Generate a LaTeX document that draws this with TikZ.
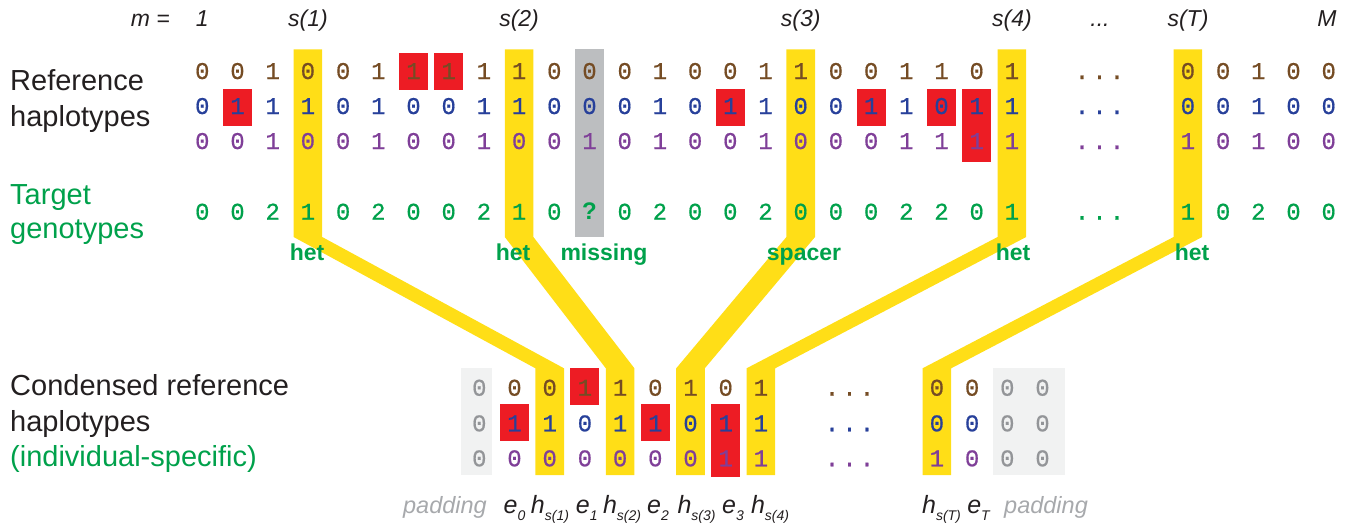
\documentclass[tikz,border=0pt]{standalone}
\usepackage{fontspec}
\setmainfont{Liberation Sans}
\newfontfamily\digfont{Liberation Mono}[FakeBold=0.6]
\definecolor{cbrown}{RGB}{117,76,36}
\definecolor{cblue}{RGB}{39,64,154}
\definecolor{cpurple}{RGB}{127,63,152}
\definecolor{cgreen}{RGB}{0,161,75}
\definecolor{cyellow}{RGB}{255,222,23}
\definecolor{cred}{RGB}{237,28,36}
\definecolor{cgraycol}{RGB}{188,190,192}
\definecolor{cpad}{RGB}{241,242,242}
\definecolor{cpaddig}{RGB}{147,149,152}
\definecolor{cpadtxt}{RGB}{167,169,172}
\definecolor{ctext}{RGB}{35,31,32}
\newcommand\sbx[1]{\raisebox{-7pt}{\fontsize{14}{14}\selectfont #1}}
\begin{document}
\begin{tikzpicture}[x=1pt,y=-1pt,
  dig/.style={font=\digfont\fontsize{24}{24}\selectfont, anchor=base, inner sep=0pt},
  lbl/.style={font=\fontsize{29}{29}\selectfont, anchor=base west, inner sep=0pt, text=ctext},
  hdr/.style={font=\itshape\fontsize{23}{23}\selectfont, anchor=base, inner sep=0pt, text=ctext},
  sym/.style={font=\itshape\fontsize{25}{25}\selectfont, anchor=base, inner sep=0pt, text=ctext},
  tag/.style={font=\bfseries\fontsize{23}{23}\selectfont, anchor=base, inner sep=0pt, text=cgreen},
  pad/.style={font=\itshape\fontsize{23.5}{23.5}\selectfont, inner sep=0pt, text=cpadtxt},
  redbox/.style={fill=cred},
  band/.style={fill=cyellow}
]
\useasboundingbox (0,0) rectangle (1352,527);

% background boxes
\fill[cpad] (461,368.3) rectangle (491.7,475);
\fill[cpad] (993,368.3) rectangle (1064.7,475);
\fill[cgraycol] ({202.3+35.2*11-14.5},49.3) rectangle ({202.3+35.2*11+14.5},237);

% yellow bands
\foreach \i/\j in {3/2, 9/4, 17/6, 23/8, 28/13} {
  \fill[band] ({202.3+35.2*\i-14.3},49.3) -- ({202.3+35.2*\i+14.3},49.3)
    -- ({202.3+35.2*\i+14.3},237) -- ({479.3+35.2*\j+14.3},368.3)
    -- ({479.3+35.2*\j+14.3},475) -- ({479.3+35.2*\j-14.3},475)
    -- ({479.3+35.2*\j-14.3},368.3) -- ({202.3+35.2*\i-14.3},237) -- cycle;
}

% red boxes (top)
\foreach \i in {6,7} \fill[redbox] ({202.3+35.2*\i-14.5},53.3) rectangle ({202.3+35.2*\i+14.5},90);
\foreach \i in {1,15,19,21} \fill[redbox] ({202.3+35.2*\i-14.5},89.3) rectangle ({202.3+35.2*\i+14.5},126);
\fill[redbox] ({202.3+35.2*22-14.5},89.3) rectangle ({202.3+35.2*22+14.5},161.7);
% red boxes (condensed)
\fill[redbox] ({479.3+35.2*3-14.5},367.7) rectangle ({479.3+35.2*3+14.5},405);
\foreach \j in {1,5} \fill[redbox] ({479.3+35.2*\j-14.5},404) rectangle ({479.3+35.2*\j+14.5},440.7);
\fill[redbox] ({479.3+35.2*7-14.5},404) rectangle ({479.3+35.2*7+14.5},476.7);

% left labels
\node[lbl] (lref) at (10,90.7) {Reference};
\node[lbl] (lhap) at (10,126) {haplotypes};
\node[lbl,text=cgreen] (ltar) at (10,204) {Target};
\node[lbl,text=cgreen] (lgen) at (10,238) {genotypes};
\node[lbl] (lcon) at (10,395.5) {Condensed reference};
\node[lbl] (lhap2) at (10,431) {haplotypes};
\node[lbl,text=cgreen] (lind) at (10,466) {(individual-specific)};

% header
\node[hdr,anchor=base east] (hm) at (170,27) {m =};
\node[hdr] (h1) at (202.3,27) {1};
\node[hdr] (hs1) at (307.9,27) {s(1)};
\node[hdr] (hs2) at (519.1,27) {s(2)};
\node[hdr] (hs3) at (800.7,27) {s(3)};
\node[hdr] (hs4) at (1011.9,27) {s(4)};
\node[hdr] (hdots) at (1100,27) {...};
\node[hdr] (hsT) at (1188,27) {s(T)};
\node[hdr] (hM) at (1327,27) {M};

% reference haplotype rows
\foreach \v [count=\i from 0] in {0,0,1,0,0,1,1,1,1,1,0,0,0,1,0,0,1,1,0,0,1,1,0,1}
  \node[dig,text=cbrown] (ra\i) at ({202.3+35.2*\i},79) {\v};
\foreach \v [count=\i from 28] in {0,0,1,0,0}
  \node[dig,text=cbrown] (ra\i) at ({202.3+35.2*\i},79) {\v};
\foreach \v [count=\i from 0] in {0,1,1,1,0,1,0,0,1,1,0,0,0,1,0,1,1,0,0,1,1,0,1,1}
  \node[dig,text=cblue] (rb\i) at ({202.3+35.2*\i},114) {\v};
\foreach \v [count=\i from 28] in {0,0,1,0,0}
  \node[dig,text=cblue] (rb\i) at ({202.3+35.2*\i},114) {\v};
\foreach \v [count=\i from 0] in {0,0,1,0,0,1,0,0,1,0,0,1,0,1,0,0,1,0,0,0,1,1,1,1}
  \node[dig,text=cpurple] (rc\i) at ({202.3+35.2*\i},149) {\v};
\foreach \v [count=\i from 28] in {1,0,1,0,0}
  \node[dig,text=cpurple] (rc\i) at ({202.3+35.2*\i},149) {\v};
\foreach \v [count=\i from 0] in {0,0,2,1,0,2,0,0,2,1,0,{\rmfamily\bfseries ?},0,2,0,0,2,0,0,0,2,2,0,1}
  \node[dig,text=cgreen] (tg\i) at ({202.3+35.2*\i},219.7) {\v};
\foreach \v [count=\i from 28] in {1,0,2,0,0}
  \node[dig,text=cgreen] (tg\i) at ({202.3+35.2*\i},219.7) {\v};
\node[dig,text=cbrown] (radots) at (1099.5,79) {.\kern3pt.\kern3pt.};
\node[dig,text=cblue] (rbdots) at (1099.5,114) {.\kern3pt.\kern3pt.};
\node[dig,text=cpurple] (rcdots) at (1099.5,149) {.\kern3pt.\kern3pt.};
\node[dig,text=cgreen] (tgdots) at (1099.5,219.7) {.\kern3pt.\kern3pt.};

% tags
\node[tag] (t1) at (307,260) {het};
\node[tag] (t2) at (513,260) {het};
\node[tag] (tmiss) at (604,260) {missing};
\node[tag] (tspace) at (804,260) {spacer};
\node[tag] (t4) at (1013,260) {het};
\node[tag] (tT) at (1192,260) {het};

% condensed rows
\foreach \r/\y in {a/395.7, b/431.3, c/466.3} {
  \node[dig,text=cpaddig] (cp\r0) at (479.3,\y) {0};
  \node[dig,text=cpaddig] (cp\r15) at ({479.3+35.2*15},\y) {0};
  \node[dig,text=cpaddig] (cp\r16) at ({479.3+35.2*16},\y) {0};
}
\foreach \v [count=\j from 1] in {0,0,1,1,0,1,0,1}
  \node[dig,text=cbrown] (ca\j) at ({479.3+35.2*\j},395.7) {\v};
\foreach \v [count=\j from 1] in {1,1,0,1,1,0,1,1}
  \node[dig,text=cblue] (cb\j) at ({479.3+35.2*\j},431.3) {\v};
\foreach \v [count=\j from 1] in {0,0,0,0,0,0,1,1}
  \node[dig,text=cpurple] (cc\j) at ({479.3+35.2*\j},466.3) {\v};
\foreach \v [count=\j from 13] in {0,0}
  \node[dig,text=cbrown] (ca\j) at ({479.3+35.2*\j},395.7) {\v};
\foreach \v [count=\j from 13] in {0,0}
  \node[dig,text=cblue] (cb\j) at ({479.3+35.2*\j},431.3) {\v};
\foreach \v [count=\j from 13] in {1,0}
  \node[dig,text=cpurple] (cc\j) at ({479.3+35.2*\j},466.3) {\v};
\node[dig,text=cbrown] (cadots) at (849.5,395.7) {.\kern3pt.\kern3pt.};
\node[dig,text=cblue] (cbdots) at (849.5,431.3) {.\kern3pt.\kern3pt.};
\node[dig,text=cpurple] (ccdots) at (849.5,466.3) {.\kern3pt.\kern3pt.};

% bottom labels
\node[pad,anchor=base east] (padl) at (487,513) {padding};
\node[sym] (e0) at (514.5,513) {e\sbx{0}};
\node[sym] (hh1) at (550,513) {h\sbx{s(1)}};
\node[sym] (e1) at (586.7,513) {e\sbx{1}};
\node[sym] (hh2) at (622,513) {h\sbx{s(2)}};
\node[sym] (e2) at (658,513) {e\sbx{2}};
\node[sym] (hh3) at (696.5,513) {h\sbx{s(3)}};
\node[sym] (e3) at (733,513) {e\sbx{3}};
\node[sym] (hh4) at (770,513) {h\sbx{s(4)}};
\node[sym] (hhT) at (941.5,513) {h\sbx{s(T)}};
\node[sym] (eT) at (978.5,513) {e\sbx{T}};
\node[pad,anchor=base west] (padr) at (1004,513) {padding};
\end{tikzpicture}
\end{document}
